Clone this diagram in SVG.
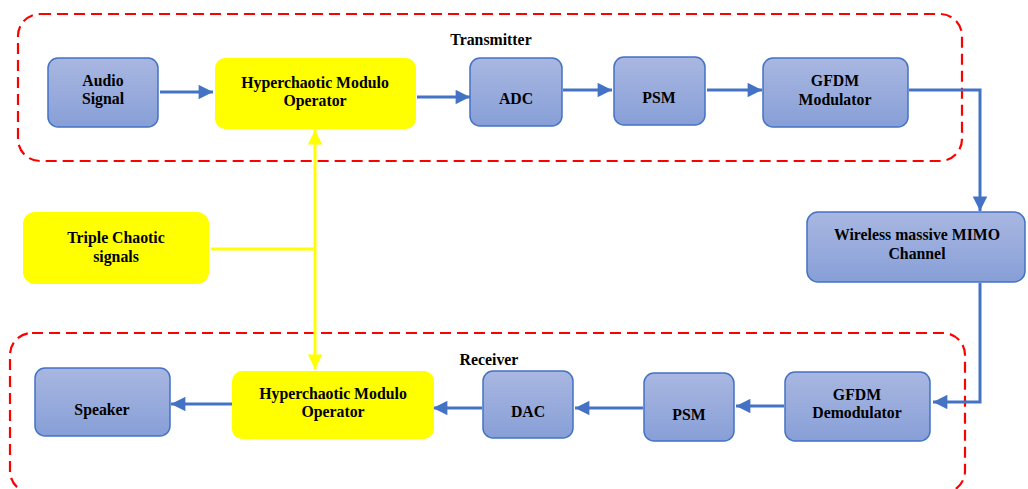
<svg xmlns="http://www.w3.org/2000/svg" width="1028" height="489" viewBox="0 0 1028 489">
<defs>
<linearGradient id="bg" x1="0" y1="0" x2="0" y2="1">
<stop offset="0" stop-color="#A9B7E1"/>
<stop offset="1" stop-color="#879FD7"/>
</linearGradient>
<marker id="ab" viewBox="0 0 10 10" markerWidth="5.2" markerHeight="4.8" refX="10" refY="5" orient="auto" markerUnits="strokeWidth">
<path d="M0,0 L10,5 L0,10 Z" fill="#4472C4"/>
</marker>
<marker id="ay" viewBox="0 0 10 10" markerWidth="5.2" markerHeight="4.8" refX="10" refY="5" orient="auto" markerUnits="strokeWidth">
<path d="M0,0 L10,5 L0,10 Z" fill="#FFFF00"/>
</marker>
</defs>
<style>
.b{fill:url(#bg);stroke:#4472C4;stroke-width:1.5}
.y{fill:#FFFF00;stroke:none}
.t{font-family:'Liberation Serif','Times New Roman',Times,serif;font-weight:700;font-size:15.8px;fill:#000;text-anchor:middle}
.g{fill:none;stroke:#FF0000;stroke-width:2.2;stroke-dasharray:11,6}
.c{fill:none;stroke:#4472C4;stroke-width:3}
.cy{fill:none;stroke:#FFFF00;stroke-width:3}
</style>
<rect fill="#FFFFFF" x="0" y="0" width="1028" height="489"/>
<g id="transmitter-group">
<rect class="g" x="18" y="14" width="944" height="147" rx="22"/>
<text class="t" x="491" y="45">Transmitter</text>
</g>
<g id="receiver-group">
<rect class="g" x="10" y="333" width="955" height="160" rx="22"/>
<text class="t" x="489" y="365">Receiver</text>
</g>
<g id="connectors">
<line class="c" x1="160" y1="92" x2="213" y2="92" marker-end="url(#ab)"/>
<line class="c" x1="417" y1="97" x2="470" y2="97" marker-end="url(#ab)"/>
<line class="c" x1="563" y1="90" x2="612" y2="90" marker-end="url(#ab)"/>
<line class="c" x1="707" y1="90" x2="762" y2="90" marker-end="url(#ab)"/>
<polyline class="c" points="909,90 980,90 980,211" marker-end="url(#ab)"/>
<polyline class="c" points="980,283 980,402 933,402" marker-end="url(#ab)"/>
<line class="c" x1="784" y1="406" x2="736" y2="406" marker-end="url(#ab)"/>
<line class="c" x1="643" y1="408" x2="575" y2="408" marker-end="url(#ab)"/>
<line class="c" x1="482" y1="408" x2="433" y2="408" marker-end="url(#ab)"/>
<line class="c" x1="232" y1="404" x2="171" y2="404" marker-end="url(#ab)"/>
<line class="cy" x1="211" y1="249" x2="316" y2="249"/>
<line class="cy" x1="315" y1="249" x2="315" y2="130" marker-end="url(#ay)"/>
<line class="cy" x1="315" y1="249" x2="315" y2="369" marker-end="url(#ay)"/>
</g>
<g id="audio-signal">
<rect class="b" x="48" y="58" width="110" height="69" rx="10"/>
<text class="t" x="103" y="86">Audio</text>
<text class="t" x="103" y="104">Signal</text>
</g>
<g id="hyper-tx">
<rect class="y" x="215" y="58" width="201" height="71" rx="10"/>
<text class="t" x="315" y="88">Hyperchaotic Modulo</text>
<text class="t" x="315" y="106">Operator</text>
</g>
<g id="adc">
<rect class="b" x="470" y="58" width="92" height="68" rx="10"/>
<text class="t" x="516" y="104">ADC</text>
</g>
<g id="psm-tx">
<rect class="b" x="614" y="57" width="91" height="68" rx="10"/>
<text class="t" x="659" y="103">PSM</text>
</g>
<g id="gfdm-mod">
<rect class="b" x="763" y="58" width="145" height="69" rx="10"/>
<text class="t" x="835" y="86">GFDM</text>
<text class="t" x="835" y="105">Modulator</text>
</g>
<g id="channel">
<rect class="b" x="807" y="212" width="218" height="70" rx="11"/>
<text class="t" x="917" y="240">Wireless massive MIMO</text>
<text class="t" x="917" y="259">Channel</text>
</g>
<g id="triple-chaotic">
<rect class="y" x="23" y="212" width="186" height="72" rx="12"/>
<text class="t" x="116" y="243">Triple Chaotic</text>
<text class="t" x="116" y="262">signals</text>
</g>
<g id="speaker">
<rect class="b" x="35" y="368" width="135" height="68" rx="10"/>
<text class="t" x="102" y="415">Speaker</text>
</g>
<g id="hyper-rx">
<rect class="y" x="232" y="371" width="202" height="68" rx="10"/>
<text class="t" x="333" y="399">Hyperchaotic Modulo</text>
<text class="t" x="333" y="417">Operator</text>
</g>
<g id="dac">
<rect class="b" x="483" y="371" width="90" height="67" rx="10"/>
<text class="t" x="528" y="417">DAC</text>
</g>
<g id="psm-rx">
<rect class="b" x="644" y="373" width="90" height="68" rx="10"/>
<text class="t" x="689" y="420">PSM</text>
</g>
<g id="gfdm-demod">
<rect class="b" x="785" y="372" width="145" height="69" rx="10"/>
<text class="t" x="857" y="400">GFDM</text>
<text class="t" x="857" y="418">Demodulator</text>
</g>
</svg>
